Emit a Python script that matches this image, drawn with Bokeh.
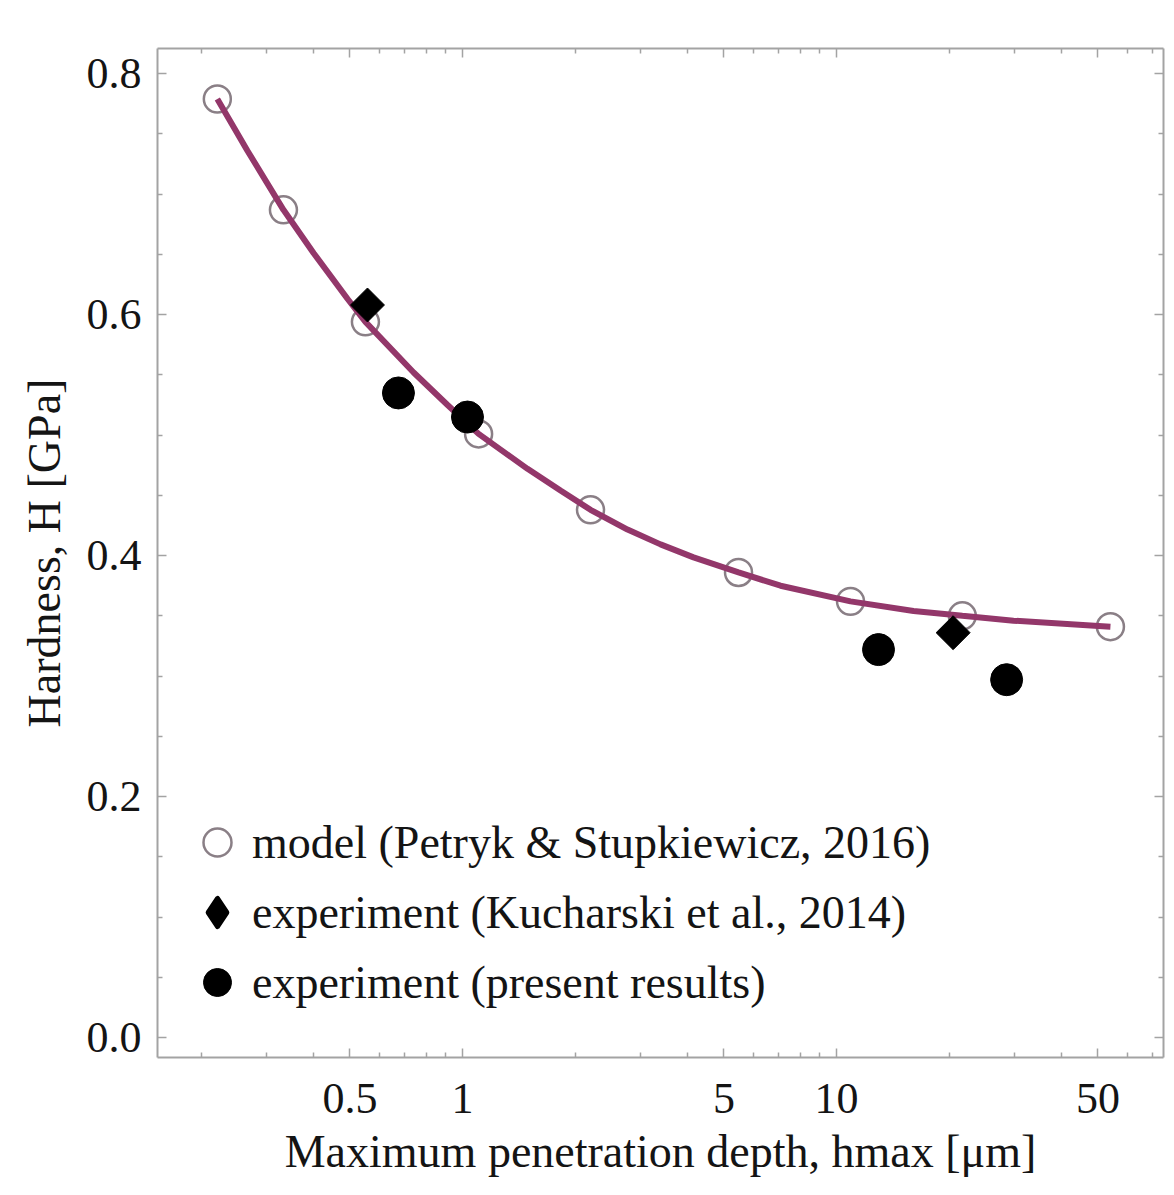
import math
from bokeh.plotting import figure
from bokeh.models import (Range1d, FixedTicker, LinearAxis, LogAxis,
                          Legend, LegendItem)
from bokeh.embed import file_html
from bokeh.resources import INLINE

# ---------------- data ----------------
model_h = [0.221, 0.332, 0.550, 1.104, 2.199, 5.47, 10.9, 21.7, 54.0]
model_H = [0.779, 0.687, 0.594, 0.501, 0.438, 0.386, 0.362, 0.350, 0.341]

kuch_h = [0.557, 20.5]
kuch_H = [0.608, 0.336]

present_h = [0.674, 1.031, 12.95, 28.5]
present_H = [0.535, 0.515, 0.322, 0.297]

curve_h = [0.221, 0.266, 0.332, 0.400, 0.493, 0.550, 0.740, 0.912, 1.104,
           1.492, 1.828, 2.199, 2.762, 3.384, 4.147, 5.47, 7.085, 10.9,
           16.07, 21.7, 29.74, 54.0]
curve_H = [0.779, 0.736, 0.687, 0.651, 0.613, 0.594, 0.552, 0.525, 0.501,
           0.472, 0.454, 0.438, 0.4216, 0.4093, 0.3985, 0.386, 0.375, 0.362,
           0.354, 0.350, 0.346, 0.341]

x_ticks = [0.5, 1, 5, 10, 50]
x_tick_labels = ["0.5", "1", "5", "10", "50"]
x_minor = [0.2, 0.3, 0.4, 0.6, 0.7, 0.8, 0.9, 2, 3, 4, 6, 7, 8, 9,
           20, 30, 40, 60, 70]
y_ticks = [0.0, 0.2, 0.4, 0.6, 0.8]
y_tick_labels = ["0.0", "0.2", "0.4", "0.6", "0.8"]
y_minor = [0.05, 0.1, 0.15, 0.25, 0.3, 0.35, 0.45, 0.5, 0.55, 0.65, 0.7, 0.75]

x_title = "Maximum penetration depth, hmax [\u03bcm]"
y_title = "Hardness, H [GPa]"
legend_labels = ["model (Petryk & Stupkiewicz, 2016)",
                 "experiment (Kucharski et al., 2014)",
                 "experiment (present results)"]

FONT = "Liberation Serif"
AX = "#a3a3a3"
TXT = "#141414"

p = figure(width=1166, height=1179, x_axis_type="log",
           x_range=Range1d(0.1529, 74.87), y_range=Range1d(-0.0166, 0.8209),
           output_backend="svg", toolbar_location=None,
           min_border_left=157, min_border_right=3, min_border_top=48,
           min_border_bottom=121)
p.outline_line_color = None
p.xgrid.visible = False
p.ygrid.visible = False
p.background_fill_color = "white"
p.border_fill_color = "white"


def style(ax, labels, standoff=16):
    ax.axis_line_color = AX
    ax.axis_line_width = 2
    ax.major_tick_in = 9
    ax.major_tick_out = 0
    ax.minor_tick_in = 5
    ax.minor_tick_out = 0
    ax.major_tick_line_color = AX
    ax.minor_tick_line_color = AX
    ax.major_tick_line_width = 1.5
    ax.minor_tick_line_width = 1.5
    if labels:
        ax.major_label_text_font = FONT
        ax.major_label_text_font_size = "44px"
        ax.major_label_text_color = TXT
        ax.major_label_standoff = standoff
        ax.axis_label_text_font = FONT
        ax.axis_label_text_font_size = "46px"
        ax.axis_label_text_font_style = "normal"
        ax.axis_label_text_color = TXT
    else:
        ax.major_label_text_color = None
        ax.major_label_text_font_size = "1px"
        ax.major_label_standoff = 0


xb = p.xaxis[0]
xb.ticker = FixedTicker(ticks=x_ticks, minor_ticks=x_minor)
xb.major_label_overrides = dict(zip(x_ticks, x_tick_labels))
style(xb, True, standoff=26)
xb.axis_label = x_title
xb.axis_label_standoff = 10

yl = p.yaxis[0]
yl.ticker = FixedTicker(ticks=y_ticks, minor_ticks=y_minor)
yl.major_label_overrides = dict(zip(y_ticks, y_tick_labels))
style(yl, True, standoff=16)
yl.axis_label = y_title
yl.axis_label_standoff = 14

xt = LogAxis(ticker=FixedTicker(ticks=x_ticks, minor_ticks=x_minor))
style(xt, False)
p.add_layout(xt, "above")
yr = LinearAxis(ticker=FixedTicker(ticks=y_ticks, minor_ticks=y_minor))
style(yr, False)
p.add_layout(yr, "right")

# ---------------- glyphs ----------------
r_model = p.scatter(model_h, model_H, marker="circle", size=27,
                    fill_color=None, line_color="#8a7f86", line_width=2.5)
p.line(curve_h, curve_H, line_color="#93376a", line_width=6)
# small diamond underneath: serves as the legend swatch (legend draws it unrotated)
r_kuch_key = p.scatter(kuch_h, kuch_H, marker="diamond", size=8,
                       fill_color="black", line_color="black",
                       line_width=5, line_join="round")
p.scatter(kuch_h, kuch_H, marker="square", size=24, angle=math.pi / 4,
          fill_color="black", line_color="black", line_width=1)
r_pres = p.scatter(present_h, present_H, marker="circle", size=32,
                   fill_color="black", line_color="black")

legend = Legend(items=[LegendItem(label=legend_labels[0], renderers=[r_model]),
                       LegendItem(label=legend_labels[1], renderers=[r_kuch_key]),
                       LegendItem(label=legend_labels[2], renderers=[r_pres])],
                location=(25, 40), glyph_width=70, glyph_height=70,
                label_standoff=0, spacing=0, padding=0, margin=0,
                border_line_color=None, background_fill_alpha=0,
                label_text_font=FONT, label_text_font_size="46px",
                label_text_color=TXT)
p.add_layout(legend)

open("out.html", "w").write(file_html(p, INLINE))
